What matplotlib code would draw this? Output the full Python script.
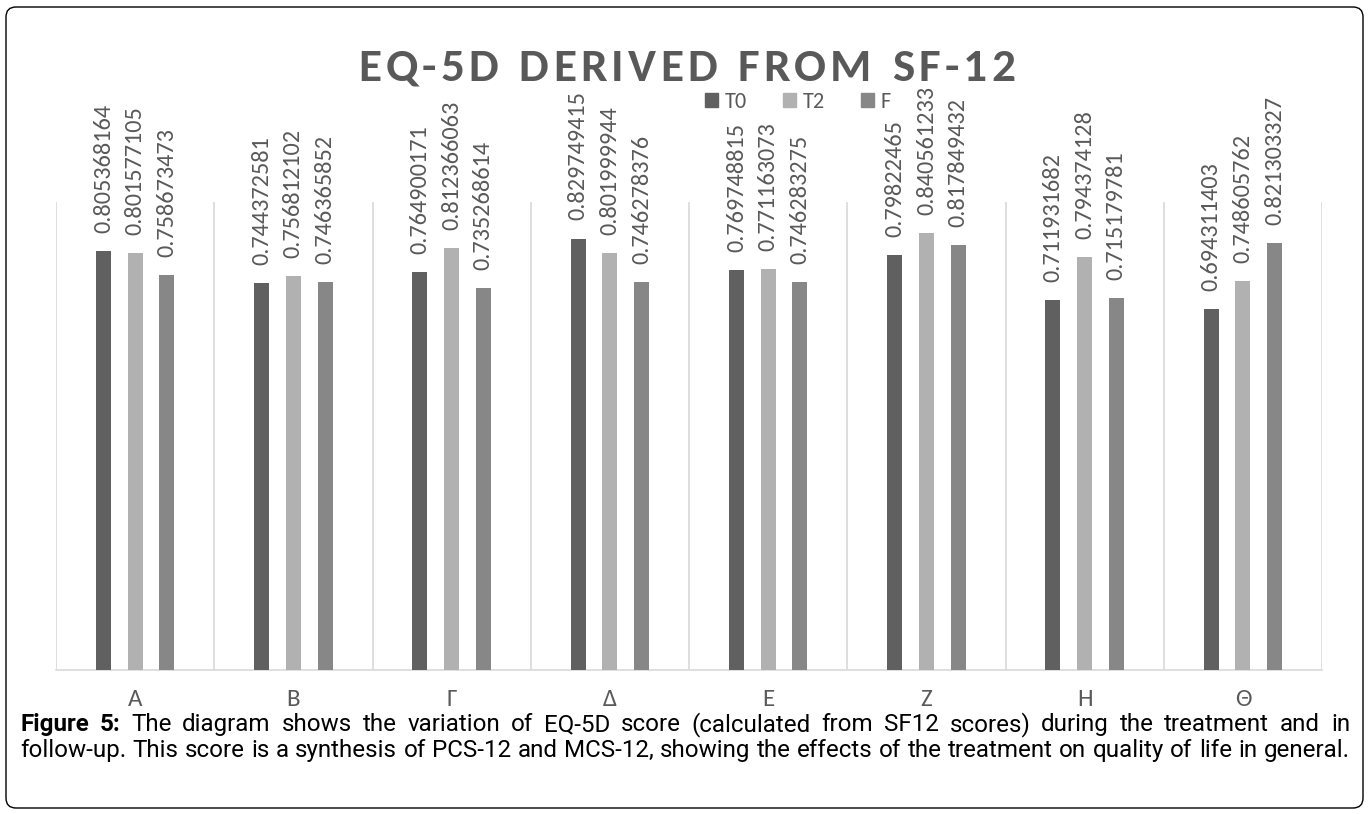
import matplotlib
matplotlib.use('agg')
import matplotlib.pyplot as plt
from matplotlib import font_manager
from matplotlib.patches import FancyBboxPatch, Rectangle
import numpy as np

# EQ-5D scores per group, three time points
categories = ['A', 'B', 'Γ', 'Δ', 'E', 'Z', 'H', 'Θ']
series_names = ['T0', 'T2', 'F']
t0_scores = [0.805368164, 0.744372581, 0.764900171, 0.829749415,
             0.769748815, 0.79822465, 0.711931682, 0.694311403]
t2_scores = [0.801577105, 0.756812102, 0.812366063, 0.801999944,
             0.771163073, 0.840561233, 0.794374128, 0.748605762]
f_scores = [0.758673473, 0.746365852, 0.735268614, 0.746278376,
            0.746283275, 0.817849432, 0.715179781, 0.821303327]
series_colors = ['#5f605f', '#b1b1b1', '#878787']

title_text = 'EQ-5D DERIVED FROM SF-12'
caption_bold = 'Figure 5:'
caption_line1 = ('The diagram shows the variation of EQ-5D score (calculated from SF12 scores) '
                 'during the treatment and in')
caption_line2 = ('follow-up. This score is a synthesis of PCS-12 and MCS-12, showing the effects '
                 'of the treatment on quality of life in general.')

installed = {f.name for f in font_manager.fontManager.ttflist}


def pick(*names):
    for n in names:
        if n in installed:
            return n
    return 'DejaVu Sans'


chart_font = pick('Carlito', 'Lato', 'Open Sans')
caption_font = pick('Roboto', 'Liberation Sans')
grey_text = '#595959'

W, H = 1370, 814
fig = plt.figure(figsize=(W / 100, H / 100), dpi=100)
ax = fig.add_axes([56 / W, 144 / H, 1266 / W, 468 / H])

x = np.arange(len(categories))
offsets = [-0.2, 0.0, 0.2]
bar_width = 0.095
all_series = [t0_scores, t2_scores, f_scores]

for vals, name, color, off in zip(all_series, series_names, series_colors, offsets):
    bars = ax.bar(x + off, vals, bar_width, color=color, label=name, zorder=3)
    for b, v in zip(bars, vals):
        ax.annotate(str(v), (b.get_x() + b.get_width() / 2, v),
                    xytext=(0, 13), textcoords='offset points',
                    rotation=90, ha='center', va='bottom',
                    fontsize=17.5, color=grey_text, family=chart_font)

ax.set_xlim(-0.5, len(categories) - 0.5)
ax.set_ylim(0, 0.9)
for edge in np.arange(-0.5, len(categories), 1.0):
    ax.axvline(edge, color='#d9d9d9', lw=1.2, zorder=1)
for side in ['top', 'left', 'right']:
    ax.spines[side].set_visible(False)
ax.spines['bottom'].set_color('#d9d9d9')
ax.spines['bottom'].set_linewidth(1.2)
ax.set_yticks([])
ax.set_xticks(x, categories)
ax.tick_params(axis='x', length=0, pad=14, labelsize=18, labelcolor=grey_text)
for lbl in ax.get_xticklabels():
    lbl.set_family(chart_font)

handles = [Rectangle((0, 0), 1, 1, color=c) for c in series_colors]
fig.legend(handles, series_names, loc='center', bbox_to_anchor=(798 / W, 1 - 102 / H),
           ncol=3, frameon=False, handlelength=0.6, handleheight=0.6,
           handletextpad=0.3, columnspacing=1.6, borderpad=0,
           prop={'family': chart_font, 'size': 16}, labelcolor=grey_text)

fig.canvas.draw()
renderer = fig.canvas.get_renderer()

# title with wide letter spacing: one text per glyph, spread over the span
title_left, title_right = 358, 1015
glyphs = []
for ch in title_text:
    if ch == ' ':
        glyphs.append(None)
        continue
    glyphs.append(fig.text(0, 1 - 68 / H, ch, ha='left', va='center', fontsize=34,
                           weight='bold', color=grey_text, family=chart_font))
space_px = 12
glyph_w = [g.get_window_extent(renderer).width if g is not None else space_px for g in glyphs]
track = (title_right - title_left - sum(glyph_w)) / (len(glyphs) - 1)
pos = title_left
for g, w in zip(glyphs, glyph_w):
    if g is not None:
        g.set_x(pos / W)
    pos += w + track

# caption, justified across the box width
left, right = 20, 1350


def place_line(words, y, size):
    texts = []
    for w, bold in words:
        texts.append(fig.text(0, y, w, fontsize=size, family=caption_font,
                              weight='bold' if bold else 'normal',
                              va='baseline', ha='left', color='black'))
    widths = [t.get_window_extent(renderer).width for t in texts]
    gap = (right - left - sum(widths)) / (len(texts) - 1)
    pos = left
    for t, w in zip(texts, widths):
        t.set_x(pos / W)
        pos += w + gap
    return texts


# caption size chosen so the second line runs the full width
probe = fig.text(0, 0, caption_line2, fontsize=15, family=caption_font)
natural = probe.get_window_extent(renderer).width
probe.remove()
cap_size = 15 * (right - left - 4) / natural

words1 = [(w, True) for w in caption_bold.split()] + [(w, False) for w in caption_line1.split()]
words2 = [(w, False) for w in caption_line2.split()]
place_line(words1, 1 - 731 / H, cap_size)
place_line(words2, 1 - 757 / H, cap_size)

border = FancyBboxPatch((0.06, 0.06), W / 100 - 0.13, H / 100 - 0.13,
                        boxstyle='round,pad=0,rounding_size=0.1',
                        transform=fig.dpi_scale_trans, fill=False,
                        ec='black', lw=1.0)
fig.add_artist(border)

fig.savefig('out.png', dpi=100)
